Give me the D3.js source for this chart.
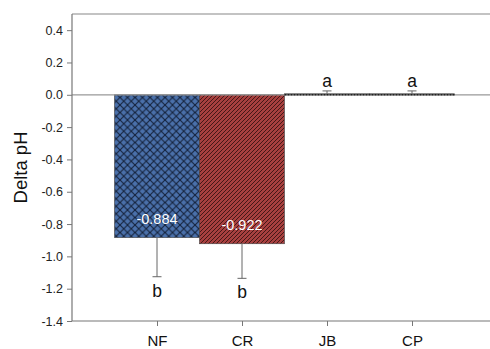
<!DOCTYPE html>
<html><head><meta charset="utf-8">
<script src="https://cdn.jsdelivr.net/npm/d3@7"></script>
<style>body{margin:0;background:#fff;}svg{display:block;font-family:"Liberation Sans",Arial,sans-serif;}</style>
</head><body><svg id="c" width="490" height="349"></svg>
<script>
const categories = ["NF","CR","JB","CP"];
const means = [-0.884, -0.922, 0.006, 0.006];
const errors = [0.242, 0.214, 0.018, 0.018];
const valueLabels = ["-0.884","-0.922","",""];
const letters = ["b","b","a","a"];
const yTicks = [0.4,0.2,0.0,-0.2,-0.4,-0.6,-0.8,-1.0,-1.2,-1.4];

const svg = d3.select("#c");
const L=72, T=14, B=321;
const x = d3.scaleLinear().domain([0,5]).range([L,497]);
const y = d3.scaleLinear().domain([-1.4,0.5]).range([B,T]);
const bw = 85;

const defs = svg.append("defs");
const p1 = defs.append("pattern").attr("id","xh").attr("patternUnits","userSpaceOnUse").attr("width",7.5).attr("height",7.5);
p1.append("rect").attr("width",7.5).attr("height",7.5).attr("fill","#4a70aa");
p1.append("path").attr("d","M0,0L7.5,7.5M7.5,0L0,7.5").attr("stroke","#15223a").attr("stroke-width",1.1);
const p2 = defs.append("pattern").attr("id","dg").attr("patternUnits","userSpaceOnUse").attr("width",4).attr("height",4);
p2.append("rect").attr("width",4).attr("height",4).attr("fill","#a8403f");
p2.append("path").attr("d","M-1,1L1,-1M0,4L4,0M3,5L5,3").attr("stroke","#3a1212").attr("stroke-width",0.9);
const fills = ["url(#xh)","url(#dg)","#555","#555"];
const fmt = d => d3.format(".1f")(d).replace("\u2212","-");

// frame
svg.append("line").attr("x1",L).attr("x2",490).attr("y1",T).attr("y2",T).attr("stroke","#888").attr("stroke-width",1.2);

// bars
svg.selectAll("rect.bar").data(categories).enter().append("rect").attr("class","bar")
  .attr("x",(d,i)=>x(i+1)-bw/2).attr("width",bw)
  .attr("y",(d,i)=>y(Math.max(0,means[i])))
  .attr("height",(d,i)=>Math.max(1,Math.abs(y(means[i])-y(0))))
  .attr("fill",(d,i)=>fills[i]).attr("stroke",(d,i)=>i<2?"#444":"#333").attr("stroke-width",0.6);

// zero line
svg.append("line").attr("x1",L).attr("x2",490).attr("y1",y(0)).attr("y2",y(0)).attr("stroke","#999").attr("stroke-width",1.2);
svg.append("line").attr("x1",x(3)-bw/2).attr("x2",x(4)+bw/2).attr("y1",y(0)).attr("y2",y(0)).attr("stroke","#222").attr("stroke-width",1.4).attr("stroke-dasharray","2,1");

// error bars
categories.forEach((c,i)=>{
  const m=means[i], e=errors[i];
  const end = m<0 ? m-e : m+e;
  svg.append("line").attr("x1",x(i+1)).attr("x2",x(i+1)).attr("y1",y(m)).attr("y2",y(end)).attr("stroke","#666").attr("stroke-width",1);
  svg.append("line").attr("x1",x(i+1)-4.5).attr("x2",x(i+1)+4.5).attr("y1",y(end)).attr("y2",y(end)).attr("stroke","#666").attr("stroke-width",1);
  svg.append("text").attr("x",x(i+1)).attr("y", m<0 ? y(end)+20 : y(end)-3.5)
    .attr("text-anchor","middle").attr("font-size",17.5).attr("fill","#111").text(letters[i]);
  if(valueLabels[i]) svg.append("text").attr("x",x(i+1)).attr("y",y(m)-14)
    .attr("text-anchor","middle").attr("font-size",14.5).attr("fill","#fff").text(valueLabels[i]);
});

// axes
const ya = svg.append("g").attr("transform",`translate(${L},0)`)
  .call(d3.axisLeft(y).tickValues(yTicks).tickFormat(fmt).tickSizeOuter(0).tickSize(5).tickPadding(4));
ya.select(".domain").attr("stroke","#777").attr("stroke-width",1.2).attr("d",`M0,${T}V${B}`);
ya.selectAll(".tick line").attr("stroke","#777");
ya.selectAll("text").attr("font-size",12.5).attr("fill","#222").attr("font-family","Liberation Sans, Arial, sans-serif");

const xa = svg.append("g").attr("transform",`translate(0,${B})`)
  .call(d3.axisBottom(x).tickValues([1,2,3,4]).tickFormat(d=>categories[d-1]).tickSizeOuter(0).tickSize(5).tickPadding(9));
xa.select(".domain").attr("stroke","#777").attr("stroke-width",1.2).attr("d",`M${L},0H490`);
xa.selectAll(".tick line").attr("stroke","#777");
xa.selectAll("text").attr("font-size",15).attr("fill","#111").attr("font-family","Liberation Sans, Arial, sans-serif");

svg.append("text").attr("transform",`translate(27,${(T+B)/2}) rotate(-90)`).attr("text-anchor","middle")
  .attr("font-size",18.5).attr("fill","#111").text("Delta pH");
</script></body></html>
